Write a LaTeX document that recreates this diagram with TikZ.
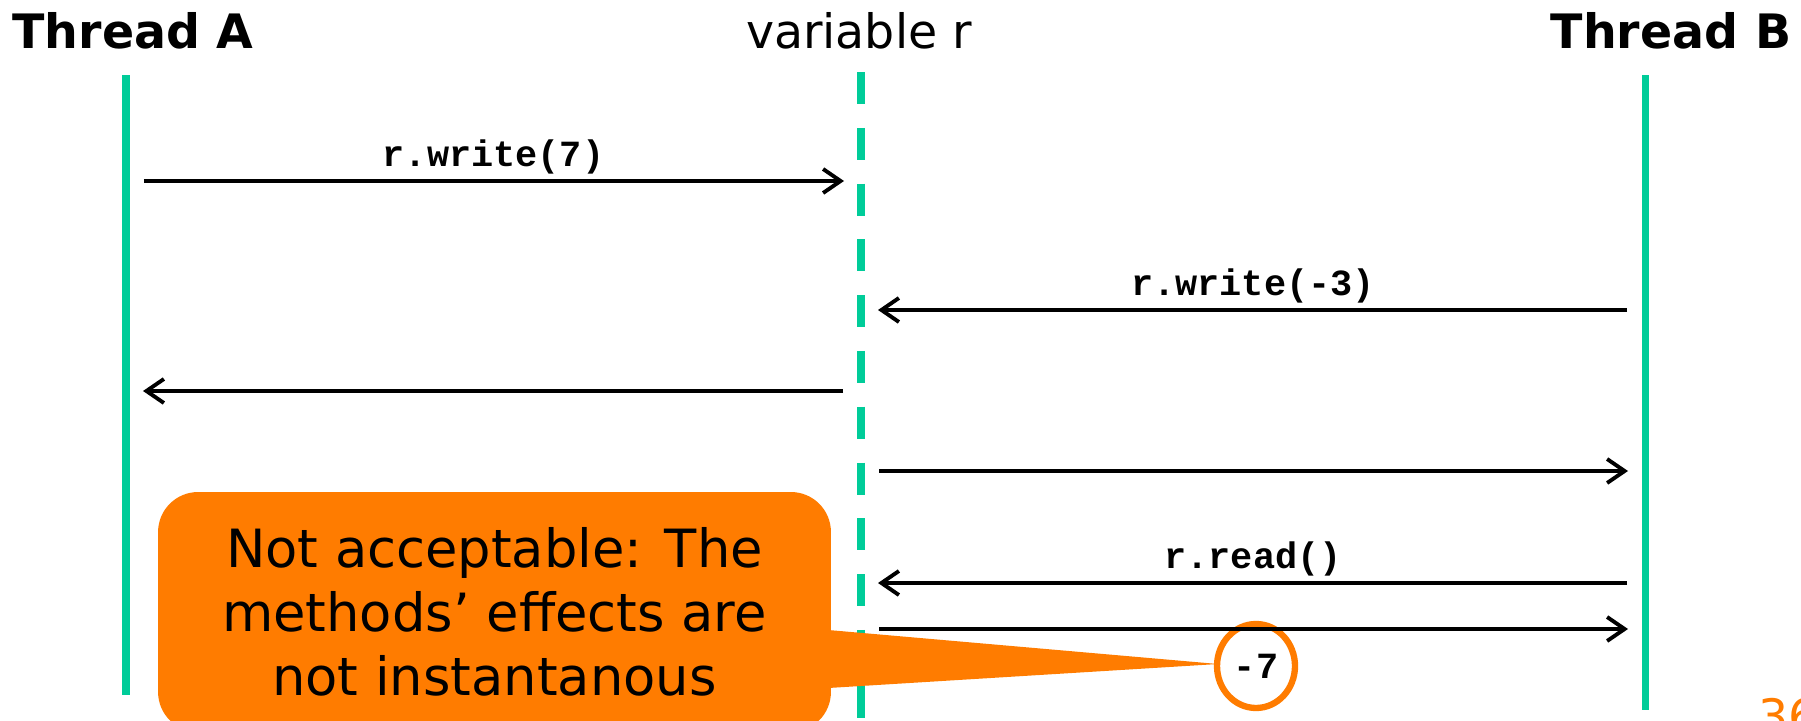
\documentclass[tikz,border=0pt]{standalone}
\usepackage{fontspec}
\setmainfont{DejaVu Sans}
\setmonofont{Liberation Mono}
\usetikzlibrary{arrows.meta,calc,shapes.geometric}
\definecolor{lifeteal}{RGB}{0,204,153}
\definecolor{noteorange}{RGB}{255,124,0}

\begin{document}
\begin{tikzpicture}[x=0.02cm,y=-0.02cm,
  head/.style={anchor=base,inner sep=0pt,font=\fontsize{27}{32}\selectfont},
  lifeline/.style={lifeteal,line width=4pt},
  msg/.style={-{Straight Barb[length=3.5mm,width=4.8mm]},line width=2.2pt,shorten <=0.36cm,shorten >=0.34cm},
  call/.style={above,inner sep=3pt,font=\fontsize{21}{24}\selectfont\ttfamily\bfseries}]
\useasboundingbox (0,0) rectangle (1801,720);
\node[head,font=\fontsize{27}{32}\selectfont\bfseries] (tA) at (133,48) {Thread A};
\node[head] (var) at (859,48) {variable r};
\node[head,font=\fontsize{27}{32}\selectfont\bfseries] (tB) at (1671,48) {Thread B};
\foreach \n/\y in {1/181,2/310,3/391,4/471,5/583,6/629}{
  \coordinate (a\n) at (126,\y); \coordinate (r\n) at (861,\y); \coordinate (b\n) at (1645,\y);}
\draw[lifeline] (126,75) -- (126,695);
\draw[lifeline,dash pattern=on 0.64cm off 0.476cm] (861,72) -- (861,720);
\draw[lifeline] (1645,75) -- (1645,710);
\node[fill=noteorange,rounded corners=0.8cm,minimum width=13.46cm,minimum height=4.8cm,inner sep=0pt,
  align=center,font=\fontsize{30}{36.4}\selectfont] (note) at (494.5,612)
  {Not acceptable: The\\methods’ effects are\\not instantanous};
\coordinate (m7c) at (1256,666);
\fill[noteorange] ($(note.east)+(-3,18)$) -- ($(m7c)+(-38,-2)$) -- ($(note.east)+(-3,76)$) -- cycle;
\node[ellipse,draw=noteorange,fill=white,line width=3.6pt,minimum width=1.56cm,minimum height=1.68cm,inner sep=0pt,
  font=\fontsize{21}{24}\selectfont\ttfamily\bfseries] (m7) at (m7c) {-7};
\draw[msg] (a1) -- node[call]{r.write(7)} (r1);
\draw[msg] (b2) -- node[call]{r.write(-3)} (r2);
\draw[msg] (r3) -- (a3);
\draw[msg] (r4) -- (b4);
\draw[msg] (b5) -- node[call]{r.read()} (r5);
\draw[msg] (r6) -- (b6);
\node[anchor=north west,inner sep=0pt,text=noteorange,font=\fontsize{27}{32}\selectfont] (page) at (1758,698) {36};
\end{tikzpicture}
\end{document}
